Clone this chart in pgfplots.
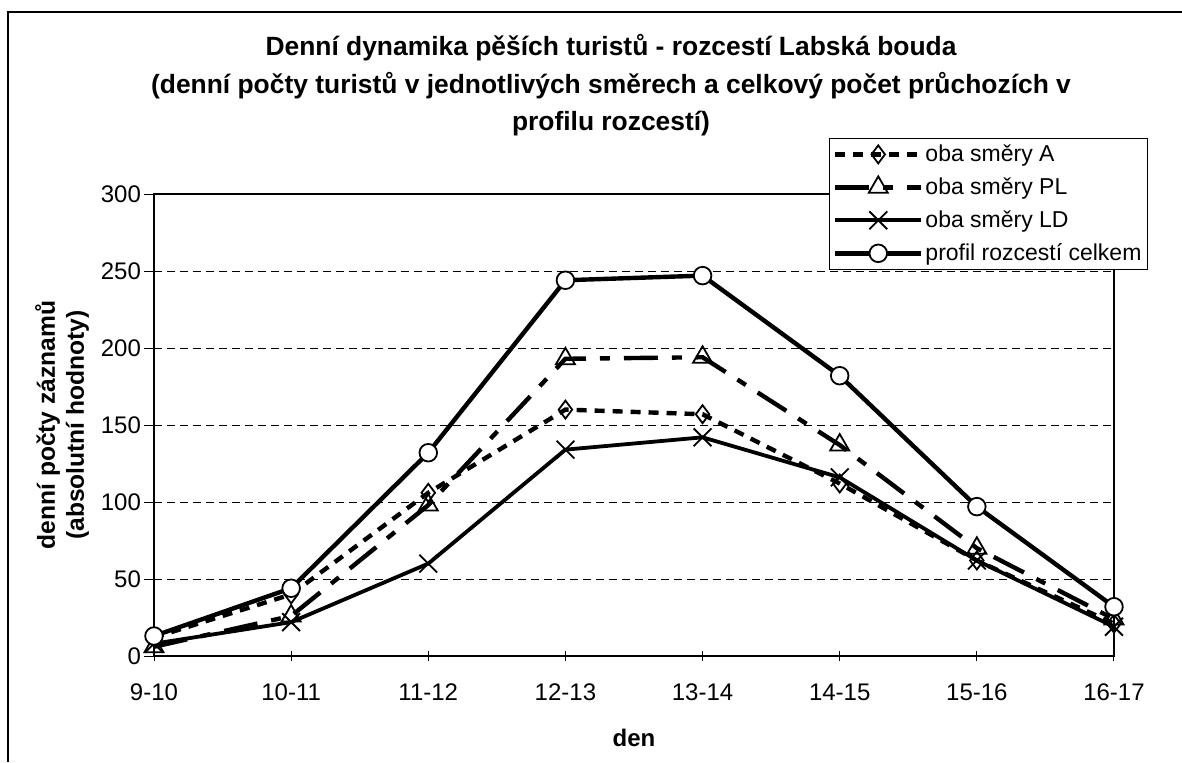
\documentclass[border=0pt]{standalone}
\usepackage{pgfplots}
\pgfplotsset{compat=1.18}
\usepackage{fontspec}
\setmainfont{Liberation Sans}

\begin{document}
\begin{tikzpicture}[x=1pt,y=1pt]
\useasboundingbox (0,0) rectangle (591,381);
% outer chart frame (left and top only visible)
\draw[line width=0.6pt] (4,0) -- (4,375) -- (591,375);
% title
\begin{scope}[every node/.style={font=\fontsize{13.2}{15}\selectfont\bfseries, anchor=base, inner sep=0pt}]
\node at (305.5,353) {Denní dynamika pěších turistů - rozcestí Labská bouda};
\node at (305.5,334) {(denní počty turistů v jednotlivých směrech a celkový počet průchozích v};
\node at (305.5,315.5) {profilu rozcestí)};
\end{scope}
\begin{axis}[
  at={(77pt,53pt)}, anchor=south west,
  scale only axis, width=480pt, height=231pt,
  xmin=0, xmax=7, ymin=0, ymax=300,
  xtick={0,...,7},
  xticklabels={9-10,10-11,11-12,12-13,13-14,14-15,15-16,16-17},
  ytick={0,50,...,300},
  xtick pos=bottom, ytick pos=left,
  xtick align=center, ytick align=outside,
  major tick length=5pt,
  tick style={black, line width=0.5pt},
  axis line style={line width=1pt},
  ymajorgrids,
  major grid style={black, line width=0.5pt, dash pattern=on 4pt off 2.5pt},
  tick label style={font=\fontsize{12}{14}\selectfont},
  xticklabel style={anchor=base, yshift=-19.5pt},
  yticklabel style={xshift=2pt},
  /pgf/number format/assume math mode=true,
  xlabel={den},
  xlabel style={font=\fontsize{12}{14}\selectfont\bfseries, at={(axis description cs:0.5,-0.177)}, anchor=center},
  ylabel={denní počty záznamů\\(absolutní hodnoty)},
  ylabel style={font=\fontsize{12.3}{14.5}\selectfont\bfseries, align=center, at={(axis description cs:-0.0958,0.5)}, anchor=center},
  clip=false,
  legend style={at={(1.0354,1.1212)}, anchor=north east, draw=black, line width=0.5pt, fill=white,
    font=\fontsize{11.5}{13}\selectfont, row sep=2.6pt, inner xsep=2pt, inner ysep=1pt,
    nodes={inner xsep=1pt}},
  legend cell align=left,
  legend image code/.code={\draw[mark repeat=2,mark phase=2] plot coordinates {(0pt,0pt)(21.5pt,0pt)(43pt,0pt)};},
]
\addplot[black, line width=2.2pt, dash pattern=on 5pt off 4pt, mark=diamond, mark size=4.5pt,
  mark options={solid, fill=white, line width=0.9pt}]
  coordinates {(0,12)(1,40)(2,106)(3,160)(4,157)(5,112)(6,62)(7,21)};
\addplot[black, line width=2.2pt, dash pattern=on 17pt off 7pt on 5pt off 7pt, mark=triangle, mark size=5.5pt,
  mark options={solid, fill=white, line width=0.9pt}]
  coordinates {(0,6)(1,26)(2,98)(3,193)(4,194)(5,137)(6,70)(7,24)};
\addplot[black, line width=1.9pt, mark=x, mark size=6.3pt,
  mark options={solid, line width=0.9pt}]
  coordinates {(0,8)(1,22)(2,60)(3,134)(4,142)(5,116)(6,62)(7,19)};
\addplot[black, line width=2.2pt, mark=*, mark size=4.4pt,
  mark options={solid, fill=white, line width=0.9pt}]
  coordinates {(0,13)(1,44)(2,132)(3,244)(4,247)(5,182)(6,97)(7,32)};
\legend{oba směry A,oba směry PL,oba směry LD,profil rozcestí celkem}
\end{axis}
\end{tikzpicture}
\end{document}
